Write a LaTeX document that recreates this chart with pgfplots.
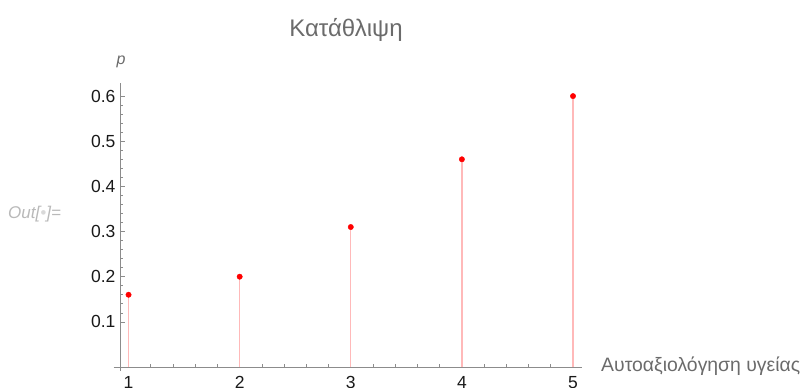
\documentclass[border=0pt]{standalone}
\usepackage{pgfplots}
\pgfplotsset{compat=1.18}
\usepackage{fontspec}
\setmainfont{Liberation Sans}

\definecolor{axisgray}{gray}{0.55}
\definecolor{labelgray}{gray}{0.42}
\definecolor{ticktext}{gray}{0.1}
\definecolor{stem}{RGB}{255,185,185}

\begin{document}
\begin{tikzpicture}
\begin{axis}[
  at={(120pt,21pt)}, anchor=south west,
  scale only axis,
  width=462pt, height=284pt,
  xmin=0.923, xmax=5.081,
  ymin=0, ymax=0.629,
  axis lines=left,
  axis line style={-, axisgray, line width=0.8pt},
  clip=false,
  xtick={1,2,3,4,5},
  ytick={0.1,0.2,0.3,0.4,0.5,0.6},
  yticklabels={0.1,0.2,0.3,0.4,0.5,0.6},
  minor x tick num=4,
  minor y tick num=4,
  tick align=inside,
  major tick length=5pt,
  minor tick length=3pt,
  tick style={axisgray, line width=0.6pt},
  /pgf/number format/assume math mode=true,
  ticklabel style={font=\fontsize{17.5}{17.5}\selectfont, text=ticktext},
  xticklabel style={yshift=-6pt},
  yticklabel style={xshift=-1pt},
]
  % stems
  \addplot[ycomb, stem, line width=1.3pt, mark=none] coordinates {
    (1,0.16) (2,0.20) (3,0.31) (4,0.46) (5,0.60)
  };
  % points
  \addplot[only marks, mark=*, mark size=2.7pt, color=red] coordinates {
    (1,0.16) (2,0.20) (3,0.31) (4,0.46) (5,0.60)
  };
  % short overhang of the axes past their crossing
  \draw[axisgray, line width=0.8pt] (axis cs:0.865,0) -- (axis cs:0.923,0);
  \draw[axisgray, line width=0.8pt] (axis cs:0.923,0) -- (axis cs:0.923,-0.009);
\end{axis}
% title
\node[anchor=base, text=labelgray, font=\fontsize{24}{24}\selectfont] at (346pt,351pt) {Κατάθλιψη};
% axis labels
\node[anchor=base, text=labelgray, font=\fontsize{16}{16}\itshape] at (121pt,323pt) {p};
\node[anchor=base west, inner sep=0pt, text=labelgray, font=\fontsize{19.4}{19.4}\selectfont] at (601pt,16pt) {Αυτοαξιολόγηση υγείας};
% output cell marker
\node[anchor=base west, inner sep=0pt, text=gray!55, font=\fontsize{17}{17}\itshape] at (8pt,169pt) {Out[{\color{gray!30}•}]=};
% fixed page frame
\pgfresetboundingbox
\useasboundingbox (0pt,0pt) rectangle (803pt,388pt);
\end{tikzpicture}
\end{document}
